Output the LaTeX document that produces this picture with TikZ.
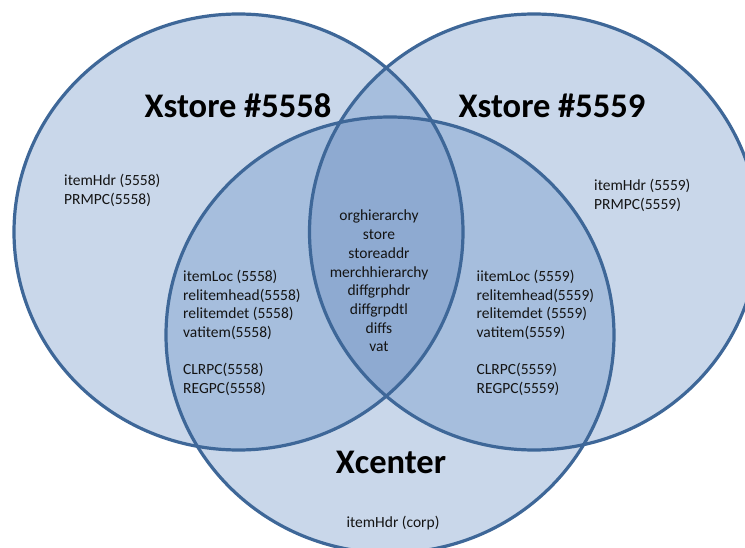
\documentclass[tikz,border=0pt]{standalone}
\usepackage{fontspec}
\setmainfont{Carlito}
\definecolor{vlight}{RGB}{201,215,234}
\definecolor{vmid}{RGB}{166,190,221}
\definecolor{vdark}{RGB}{142,170,209}
\definecolor{vline}{RGB}{62,103,152}
\begin{document}
\begin{tikzpicture}[x=1pt,y=-1pt,
  title/.style={font=\fontsize{34.5}{40}\selectfont\bfseries, inner sep=0pt, anchor=base},
  lbl/.style={font=\fontsize{15.5}{18}\selectfont, inner sep=0pt, text=black!92},
  outline/.style={draw=vline, line width=3.2pt}]
\useasboundingbox (0,0) rectangle (745,548);
\clip (0,0) rectangle (745,548);
\def\ellL{(238.5,232) ellipse [x radius=224.5, y radius=218]}
\def\ellR{(534,232) ellipse [x radius=224.5, y radius=218]}
\def\ellB{(390,335) ellipse [x radius=224, y radius=218]}
\fill[white] (0,0) rectangle (745,548);
\fill[vlight] \ellL;
\fill[vlight] \ellR;
\fill[vlight] \ellB;
\begin{scope}
  \clip \ellL;
  \fill[vmid] \ellR;
  \fill[vmid] \ellB;
\end{scope}
\begin{scope}
  \clip \ellR;
  \fill[vmid] \ellB;
\end{scope}
\begin{scope}
  \clip \ellL;
  \clip \ellR;
  \fill[vdark] \ellB;
\end{scope}
\path[outline] \ellL;
\path[outline] \ellR;
\path[outline] \ellB;

\node[title] (t1) at (238,118) {Xstore \#5558};
\node[title] (t2) at (552,118) {Xstore \#5559};
\node[title] (t3) at (391,473) {Xcenter};

\node[lbl, anchor=base west] (a1) at (64,186) {itemHdr (5558)};
\node[lbl, anchor=base west] (a2) at (64,204.5) {PRMPC(5558)};
\node[lbl, anchor=base west] (b1) at (594,191) {itemHdr (5559)};
\node[lbl, anchor=base west] (b2) at (594,209.5) {PRMPC(5559)};

\foreach \t [count=\i] in {itemLoc (5558),relitemhead(5558),relitemdet (5558),vatitem(5558),{},CLRPC(5558),REGPC(5558)}
  \node[lbl, anchor=base west] (c\i) at (183,{282+18.5*(\i-1)}) {\t};
\foreach \t [count=\i] in {iitemLoc (5559),relitemhead(5559),relitemdet (5559),vatitem(5559),{},CLRPC(5559),REGPC(5559)}
  \node[lbl, anchor=base west] (d\i) at (476.5,{282+18.5*(\i-1)}) {\t};
\foreach \t [count=\i] in {orghierarchy,store,storeaddr,merchhierarchy,diffgrphdr,diffgrpdtl,diffs,vat}
  \node[lbl, anchor=base] (m\i) at (379,{221+18.7*(\i-1)}) {\t};

\node[lbl, anchor=base] (corp) at (393,527) {itemHdr (corp)};
\end{tikzpicture}
\end{document}
